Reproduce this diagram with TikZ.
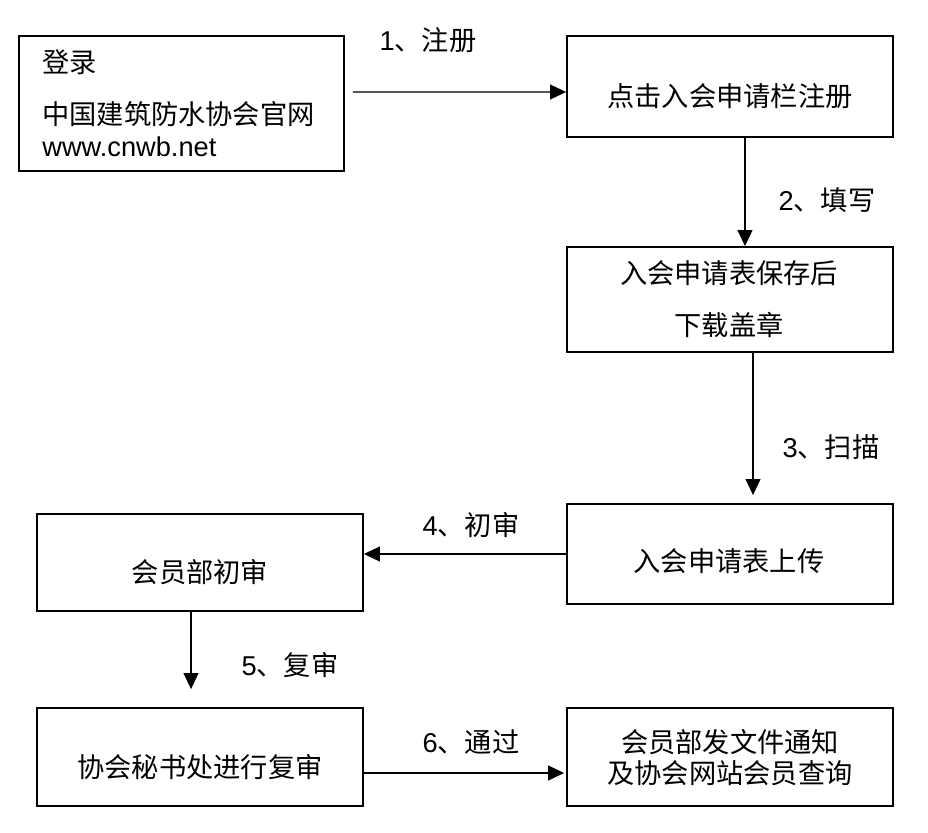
\documentclass[tikz,border=0pt]{standalone}
\usepackage{fontspec}
\setmainfont{Noto Sans CJK SC}
\newfontfamily\latin{Liberation Sans}
\usetikzlibrary{arrows.meta}

\tikzset{
  box/.style={draw, line width=1.1pt, minimum width=6.52cm, inner sep=0pt},
  txt/.style={font=\fontsize{15.5}{18.1}\selectfont, align=center, inner sep=0pt},
  lbl/.style={font=\fontsize{15.5}{18.1}\selectfont, inner sep=0pt},
  line/.style={-{Triangle[length=0.32cm, width=0.3cm]}, line width=0.6pt}
}

\begin{document}
\begin{tikzpicture}[x=0.02cm, y=-0.02cm]
  \useasboundingbox (0,0) rectangle (928,832);

  % boxes
  \node[box, minimum width=6.5cm, minimum height=2.7cm] (login) at (181.5,103.5) {};
  \node[box, minimum height=2.02cm] (register) at (730,86.5) {};
  \node[box, minimum height=2.1cm] (fill) at (730,299.5) {};
  \node[box, minimum height=2cm] (upload) at (730,554) {};
  \node[box, minimum height=1.94cm] (first) at (200,562.5) {};
  \node[box, minimum height=1.96cm] (second) at (200,757) {};
  \node[box, minimum height=1.96cm] (notice) at (730,757) {};

  % texts
  \node[txt, align=left, anchor=west] (logintxt) at (42,103) {登录\\[0.4cm]中国建筑防水协会官网\\{\latin www.cnwb.net}};
  \node[txt] (registertxt) at (730,96.5) {点击入会申请栏注册};
  \node[txt] (filltxt) at (729,299) {入会申请表保存后\\[0.4cm]下载盖章};
  \node[txt] (uploadtxt) at (729,561) {入会申请表上传};
  \node[txt] (firsttxt) at (200,572) {会员部初审};
  \node[txt] (secondtxt) at (200,767) {协会秘书处进行复审};
  \node[txt] (noticetxt) at (730,757.5) {会员部发文件通知\\及协会网站会员查询};

  % arrows
  \draw[line] ([shift={(8,-11.5)}]login.east) -- ([shift={(0,5.5)}]register.west);
  \draw[line] ([shift={(15,0)}]register.south) -- ([shift={(15,0)}]fill.north);
  \draw[line] ([shift={(23,0)}]fill.south) -- ([shift={(23,-8)}]upload.north);
  \draw[line] (upload.west) -- (upload.west -| first.east);
  \draw[line] ([shift={(-9,0)}]first.south) -- ([shift={(-9,-18)}]second.north);
  \draw[line] ([shift={(0,16)}]second.east) -- ([shift={(-2,16)}]notice.west);

  % labels
  \node[lbl] (lab1) at (428,40) {{\latin 1}、注册};
  \node[lbl] (lab2) at (827,200) {{\latin 2}、填写};
  \node[lbl] (lab3) at (831,447) {{\latin 3}、扫描};
  \node[lbl] (lab4) at (471,525) {{\latin 4}、初审};
  \node[lbl] (lab5) at (290,665) {{\latin 5}、复审};
  \node[lbl] (lab6) at (471,742) {{\latin 6}、通过};
\end{tikzpicture}
\end{document}
